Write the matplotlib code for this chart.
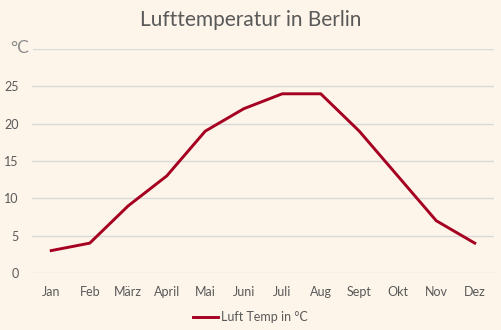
import matplotlib
matplotlib.use("Agg")
import matplotlib.pyplot as plt

months = ["Jan", "Feb", "März", "April", "Mai", "Juni", "Juli", "Aug", "Sept", "Okt", "Nov", "Dez"]
temps = [3, 4, 9, 13, 19, 22, 24, 24, 19, 13, 7, 4]
y_ticks = [0, 5, 10, 15, 20, 25, 30]
y_labels = ["0", "5", "10", "15", "20", "25", ""]

bg = "#FDF5EA"
line_color = "#A50021"
text_color = "#595959"
grid_color = "#D9D9D9"

plt.rcParams["font.family"] = ["Lato", "DejaVu Sans"]

fig = plt.figure(figsize=(5.01, 3.30), dpi=100, facecolor=bg)
ax = fig.add_axes([32 / 501, 1 - 273 / 330, 462 / 501, (273 - 49) / 330])
ax.set_facecolor(bg)

x = list(range(len(months)))
ax.plot(x, temps, color=line_color, linewidth=2.1, solid_joinstyle="miter",
        label="Luft Temp in °C", zorder=3)

ax.set_xlim(-0.5, len(months) - 0.5)
ax.set_ylim(0, 30)
ax.set_yticks(y_ticks)
ax.set_yticklabels(y_labels)
ax.set_xticks(x)
ax.set_xticklabels(months)
ax.yaxis.grid(True, color=grid_color, linewidth=1.0)
ax.set_axisbelow(True)
for s in ax.spines.values():
    s.set_visible(False)
ax.tick_params(axis="both", length=0, colors=text_color, labelsize=9)
ax.tick_params(axis="x", pad=9)
ax.tick_params(axis="y", pad=9.5)

fig.text(0.5, 1 - 20 / 330, "Lufttemperatur in Berlin", ha="center", va="center",
         fontsize=15, color=text_color)
fig.text(10 / 501, 1 - 48 / 330, "°C", ha="left", va="center", fontsize=12.5,
         color="#8C8C8C",
         bbox=dict(boxstyle="square,pad=0.25", facecolor=bg, edgecolor="none"))

leg = fig.legend(loc="center", bbox_to_anchor=(0.5, 1 - 317 / 330), frameon=False,
                 fontsize=9, handlelength=2.0, handletextpad=0.2)
for t in leg.get_texts():
    t.set_color(text_color)

fig.savefig("out.png", dpi=100, facecolor=bg)
